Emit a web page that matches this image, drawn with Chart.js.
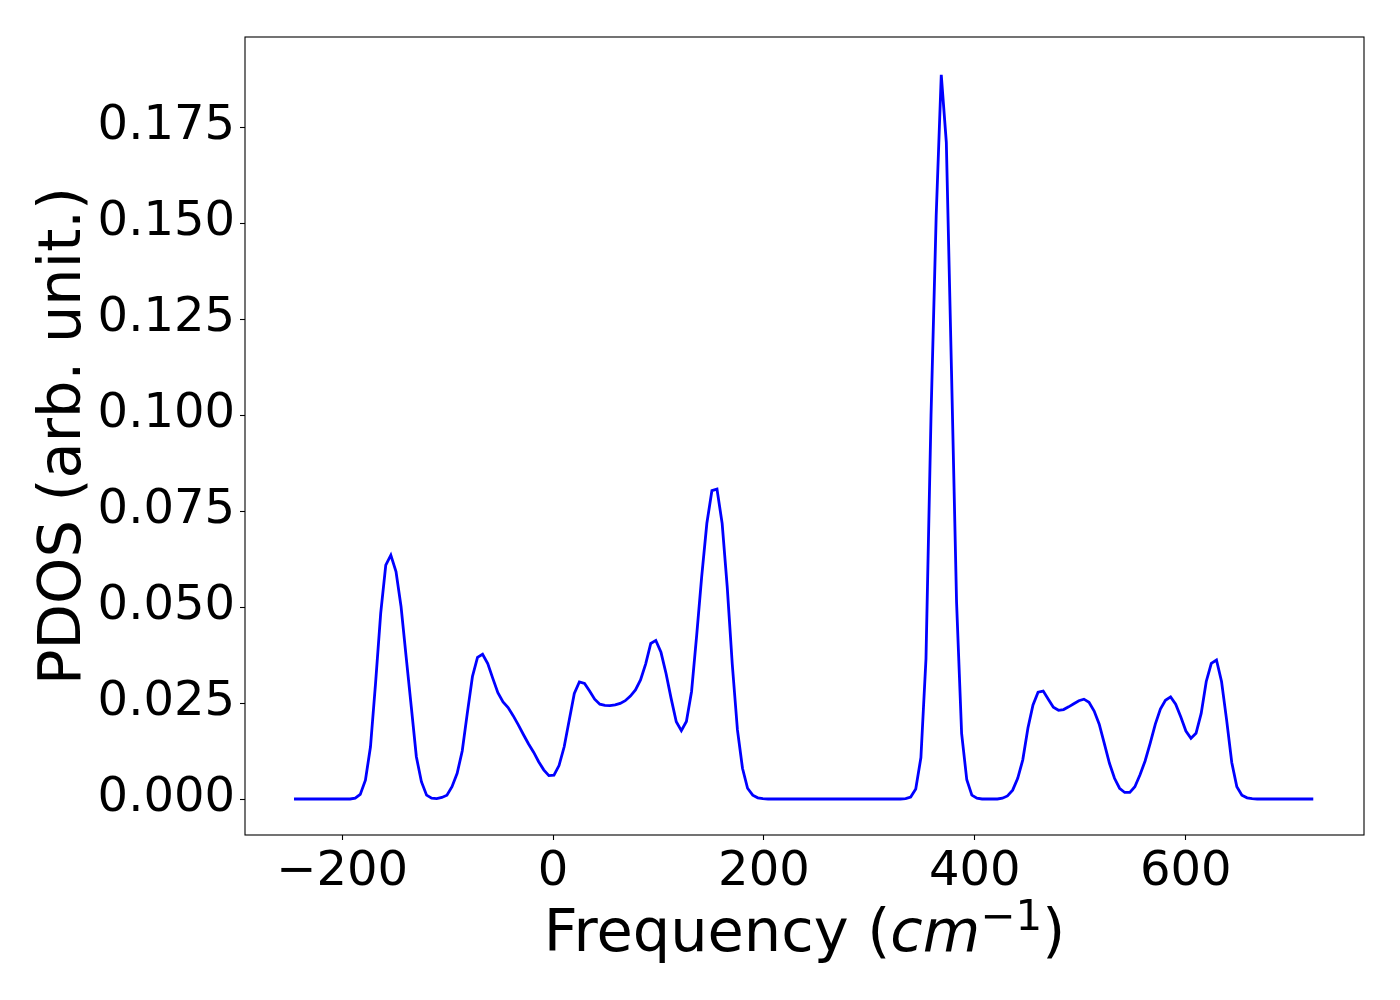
<!DOCTYPE html>
<html>
<head>
<meta charset="utf-8">
<script src="https://cdn.jsdelivr.net/npm/chart.js@4.4.1/dist/chart.umd.min.js"></script>
<style>
  html, body { margin: 0; padding: 0; background: #ffffff; }
  #wrap { width: 1400px; height: 1000px; }
</style>
</head>
<body>
<div id="wrap"><canvas id="c" width="1400" height="1000"></canvas></div>
<script>
// Frequency grid (cm^-1)
const freq = [
  -245.6, -192.4, -187.6, -182.8, -177.9, -173.1, -168.3, -163.4, -158.6, -153.8,
  -148.9, -144.1, -139.3, -134.4, -129.6, -124.8, -119.9, -115.1, -110.3, -105.4,
  -100.6, -95.8, -90.9, -86.1, -81.3, -76.4, -71.6, -66.8, -61.9, -57.1,
  -52.3, -47.4, -42.6, -37.8, -32.9, -28.1, -23.3, -18.4, -13.6, -8.8,
  -3.9, 0.9, 5.7, 10.6, 15.4, 20.2, 25.0, 29.9, 34.7, 39.5,
  44.4, 49.2, 54.0, 58.9, 63.7, 68.5, 73.4, 78.2, 83.0, 87.9,
  92.7, 97.5, 102.4, 107.2, 112.0, 116.9, 121.7, 126.5, 131.4, 136.2,
  141.0, 145.9, 150.7, 155.5, 160.4, 165.2, 170.0, 174.9, 179.7, 184.5,
  189.4, 194.2, 199.0, 203.9, 329.5, 334.4, 339.2, 344.0, 348.9, 353.7,
  358.5, 363.4, 368.2, 373.0, 377.9, 382.7, 387.5, 392.4, 397.2, 402.0,
  406.9, 421.4, 426.2, 431.0, 435.9, 440.7, 445.5, 450.4, 455.2, 460.0,
  464.9, 469.7, 474.5, 479.4, 484.2, 489.0, 493.9, 498.7, 503.5, 508.3,
  513.2, 518.0, 522.8, 527.7, 532.5, 537.3, 542.2, 547.0, 551.8, 556.7,
  561.5, 566.3, 571.2, 576.0, 580.8, 585.7, 590.5, 595.3, 600.2, 605.0,
  609.8, 614.7, 619.5, 624.3, 629.2, 634.0, 638.8, 643.7, 648.5, 653.3,
  658.2, 663.0, 667.8, 721.0
];
// PDOS values (arb. unit)
const pdos = [
  0, 0, 0.0002, 0.0012, 0.0049, 0.0136, 0.0301, 0.0484, 0.0609, 0.0635,
  0.0592, 0.0501, 0.0371, 0.0240, 0.0110, 0.0045, 0.0010, 0.0002, 0.0001, 0.0004,
  0.0010, 0.0032, 0.0067, 0.0125, 0.0223, 0.0319, 0.0369, 0.0377, 0.0353, 0.0314,
  0.0277, 0.0253, 0.0238, 0.0217, 0.0193, 0.0168, 0.0144, 0.0122, 0.0097, 0.0076,
  0.0061, 0.0062, 0.0087, 0.0136, 0.0206, 0.0275, 0.0305, 0.0301, 0.0281, 0.0260,
  0.0247, 0.0244, 0.0243, 0.0245, 0.0249, 0.0256, 0.0268, 0.0284, 0.0310, 0.0352,
  0.0405, 0.0413, 0.0382, 0.0327, 0.0262, 0.0201, 0.0178, 0.0202, 0.0280, 0.0425,
  0.0579, 0.0718, 0.0803, 0.0807, 0.0718, 0.0553, 0.0351, 0.0180, 0.0080, 0.0028,
  0.0010, 0.0003, 0.0001, 0, 0, 0.0001, 0.0005, 0.0026, 0.0108, 0.0365,
  0.1000, 0.1520, 0.1886, 0.1710, 0.1115, 0.0513, 0.0171, 0.0050, 0.0010, 0.0002,
  0, 0, 0.0002, 0.0008, 0.0023, 0.0054, 0.0102, 0.0185, 0.0245, 0.0278,
  0.0281, 0.0260, 0.0239, 0.0231, 0.0233, 0.0240, 0.0248, 0.0256, 0.0260, 0.0252,
  0.0229, 0.0195, 0.0145, 0.0093, 0.0054, 0.0028, 0.0017, 0.0017, 0.0032, 0.0063,
  0.0099, 0.0145, 0.0195, 0.0234, 0.0257, 0.0266, 0.0247, 0.0214, 0.0177, 0.0158,
  0.0171, 0.0223, 0.0306, 0.0353, 0.0362, 0.0306, 0.0206, 0.0095, 0.0032, 0.0010,
  0.0003, 0.0001, 0, 0
];
const xTicks = [-200, 0, 200, 400, 600];
const yTicks = [0, 0.025, 0.05, 0.075, 0.1, 0.125, 0.15, 0.175];
const xLabel = 'Frequency';
const yLabel = 'PDOS (arb. unit.)';

const FONT = "'DejaVu Sans', 'Liberation Sans', sans-serif";
Chart.defaults.font.family = FONT;
Chart.defaults.color = '#000000';

const points = freq.map((f, i) => ({ x: f, y: pdos[i] }));

const framePlugin = {
  id: 'frame',
  afterDraw(chart) {
    const { ctx, chartArea: a } = chart;
    ctx.save();
    ctx.strokeStyle = '#000000';
    ctx.lineWidth = 1.1;
    ctx.strokeRect(a.left, a.top, a.right - a.left, a.bottom - a.top);

    // y axis title
    ctx.fillStyle = '#000000';
    ctx.font = '59px ' + FONT;
    ctx.translate(80, (a.top + a.bottom) / 2);
    ctx.rotate(-Math.PI / 2);
    ctx.textAlign = 'center';
    ctx.textBaseline = 'alphabetic';
    ctx.fillText(yLabel, 0, 0);
    ctx.restore();

    // x axis title with math part
    ctx.save();
    ctx.fillStyle = '#000000';
    ctx.textBaseline = 'alphabetic';
    ctx.textAlign = 'left';
    const base = 951;
    const fN = '59px ' + FONT;
    const fI = 'italic 59px ' + FONT;
    const fS = '42px ' + FONT;
    const parts = [
      { t: xLabel + ' (', f: fN, dy: 0 },
      { t: 'cm', f: fI, dy: 0 },
      { t: '\u22121', f: fS, dy: -21 },
      { t: ')', f: fN, dy: 0 }
    ];
    let w = 0;
    parts.forEach(p => { ctx.font = p.f; p.w = ctx.measureText(p.t).width; w += p.w; });
    let x = (a.left + a.right) / 2 - w / 2;
    parts.forEach(p => { ctx.font = p.f; ctx.fillText(p.t, x, base + p.dy); x += p.w; });
    ctx.restore();
  }
};

new Chart(document.getElementById('c'), {
  type: 'line',
  data: {
    datasets: [{
      data: points,
      borderColor: '#0000ff',
      borderWidth: 2.8,
      pointRadius: 0,
      tension: 0,
      fill: false
    }]
  },
  options: {
    responsive: false,
    animation: false,
    devicePixelRatio: 1,
    parsing: true,
    layout: { padding: { left: 0, top: 37, right: 36, bottom: 0 } },
    plugins: { legend: { display: false }, tooltip: { enabled: false } },
    scales: {
      x: {
        type: 'linear',
        min: -292.1,
        max: 769.1,
        afterFit(s) { s.height = 165; },
        afterBuildTicks(s) { s.ticks = xTicks.map(v => ({ value: v })); },
        grid: { drawOnChartArea: false, drawTicks: true, tickLength: 5, tickColor: '#000', tickWidth: 1.1 },
        border: { display: false },
        ticks: {
          font: { size: 48, family: FONT },
          color: '#000',
          padding: 4,
          maxRotation: 0,
          callback: v => (v < 0 ? '\u2212' + Math.abs(v) : String(v))
        }
      },
      y: {
        type: 'linear',
        min: -0.009375,
        max: 0.198438,
        afterFit(s) { s.width = 245; },
        afterBuildTicks(s) { s.ticks = yTicks.map(v => ({ value: v })); },
        grid: { drawOnChartArea: false, drawTicks: true, tickLength: 5, tickColor: '#000', tickWidth: 1.1 },
        border: { display: false },
        ticks: {
          font: { size: 48, family: FONT },
          color: '#000',
          padding: 5,
          callback: v => v.toFixed(3)
        }
      }
    }
  },
  plugins: [framePlugin]
});
</script>
</body>
</html>
